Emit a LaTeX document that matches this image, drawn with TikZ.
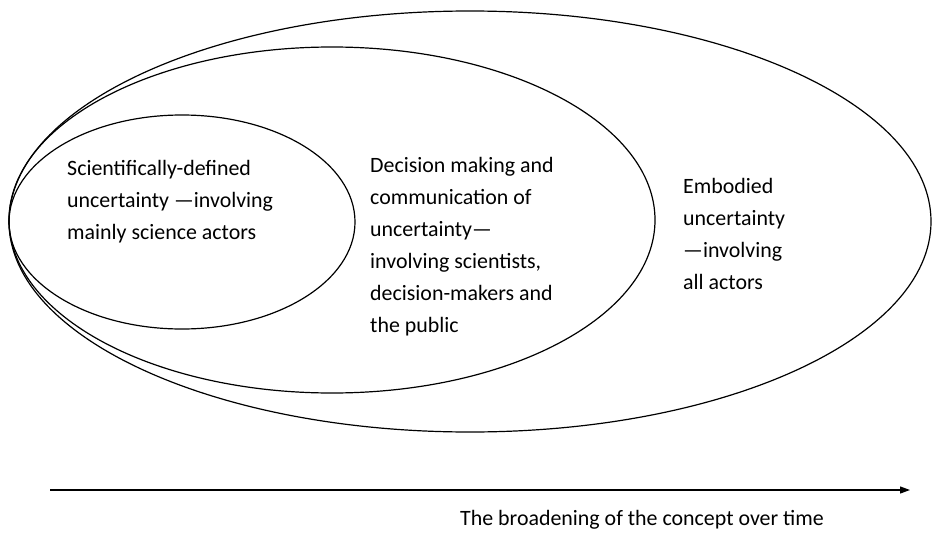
\documentclass[tikz,border=0pt]{standalone}
\usepackage{fontspec}
\setmainfont{Carlito}
\usepackage{tikz}
\usetikzlibrary{shapes.geometric,arrows.meta}

\begin{document}
\begin{tikzpicture}
            [every node/.style={inner sep=0pt},
             ring/.style={ellipse, draw=black, line width=1.2pt},
             label text/.style={anchor=north west, align=left, font=\fontsize{21.9}{32}\selectfont}]
                \useasboundingbox (0pt, 0pt) rectangle (933pt, -532pt);
                \node (outer) [ring, minimum width=922pt, minimum height=421pt] at (470pt, -221.5pt) {};
                \node (middle) [ring, minimum width=646pt, minimum height=346pt] at (332pt, -220pt) {};
                \node (inner) [ring, minimum width=346pt, minimum height=214pt] at (182pt, -222pt) {};
                \node (science) [label text] at (67pt, -160pt) {Scientifically-defined\\uncertainty —involving\\mainly science actors};
                \node (decision) [label text] at (370pt, -157pt) {Decision making and\\communication of\\uncertainty—\\involving scientists,\\decision-makers and\\the public};
                \node (embodied) [label text] at (683pt, -178pt) {Embodied\\uncertainty\\—involving\\all actors};
                \coordinate (tstart) at (50pt, -490pt);
                \coordinate (tend) at (910pt, -490pt);
                \draw [line width=1.2pt, -{Triangle[length=10pt, width=7pt]}, color=black] (tstart) to (tend);
                \node (time) [label text] at (460pt, -510pt) {The broadening of the concept over time};
            \end{tikzpicture}
\end{document}
